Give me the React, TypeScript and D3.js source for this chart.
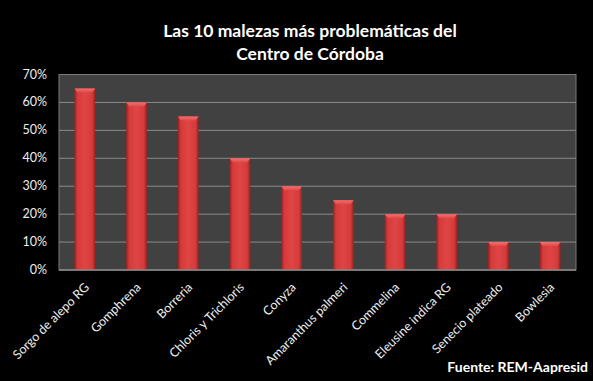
import React from "react";
import * as d3 from "d3";

const categories = [
  "Sorgo de alepo RG",
  "Gomphrena",
  "Borreria",
  "Chloris y Trichloris",
  "Conyza",
  "Amaranthus palmeri",
  "Commelina",
  "Eleusine indica RG",
  "Senecio plateado",
  "Bowlesia",
];
const values = [65, 60, 55, 40, 30, 25, 20, 20, 10, 10];
const yTicks = [0, 10, 20, 30, 40, 50, 60, 70];
const titleLines = ["Las 10 malezas más problemáticas del", "Centro de Córdoba"];
const source = "Fuente: REM-Aapresid";

const W = 593;
const H = 381;
const FONT = "Lato, 'Open Sans', sans-serif";

export default function App() {
  const left = 59, right = 576, top = 74.5, bottom = 270;
  const x = d3.scaleBand<string>().domain(categories).range([left, right]).paddingInner(0.6).paddingOuter(0.3);
  const y = d3.scaleLinear().domain([0, 70]).range([bottom, top]);
  const bw = x.bandwidth();

  return (
    <svg width={W} height={H} style={{ position: "absolute", left: 0, top: 0, background: "#000" }}>
      <defs>
        <linearGradient id="barH" x1="0" x2="1" y1="0" y2="0">
          <stop offset="0" stopColor="#9a2020" />
          <stop offset="0.15" stopColor="#d63b3b" />
          <stop offset="0.5" stopColor="#e04545" />
          <stop offset="0.85" stopColor="#d63b3b" />
          <stop offset="1" stopColor="#9a2020" />
        </linearGradient>
        <linearGradient id="bevel" x1="0" x2="0" y1="0" y2="1">
          <stop offset="0" stopColor="#f07070" />
          <stop offset="1" stopColor="#e04a4a" />
        </linearGradient>
      </defs>
      <rect x={0} y={0} width={W} height={H} fill="#000" />
      {titleLines.map((t, i) => (
        <text key={i} x={310} y={37 + i * 23} textAnchor="middle" fill="#fff" fontFamily={FONT} fontWeight="bold" fontSize={17.5}>
          {t}
        </text>
      ))}
      <rect x={left} y={top} width={right - left} height={bottom - top} fill="#414141" stroke="#7a7a7a" strokeWidth={1} />
      {yTicks.map((t) => (
        <g key={t}>
          {t > 0 && t < 70 && (
            <line x1={left} x2={right} y1={y(t)} y2={y(t)} stroke="#8a8a8a" strokeWidth={1} />
          )}
          <text x={47} y={y(t) + 4} textAnchor="end" fill="#eee" fontFamily={FONT} fontSize={12.5}>
            {t}%
          </text>
        </g>
      ))}
      {categories.map((c, i) => {
        const x0 = x(c)!;
        const y0 = y(values[i]);
        const bh = bottom - y0;
        const bv = 4;
        return (
          <g key={c}>
            <rect x={x0} y={y0} width={bw} height={bh} fill="url(#barH)" />
            <path
              d={`M${x0},${y0} L${x0 + bw},${y0} L${x0 + bw - 3},${y0 + bv} L${x0 + 3},${y0 + bv} Z`}
              fill="url(#bevel)"
            />
          </g>
        );
      })}
      <line x1={left} x2={right} y1={bottom} y2={bottom} stroke="#8a8a8a" strokeWidth={1.5} />
      {categories.map((c) => {
        const cx = x(c)! + bw / 2 + 5;
        const cy = 288;
        return (
          <text
            key={c}
            x={cx}
            y={cy}
            transform={`rotate(-45 ${cx} ${cy})`}
            textAnchor="end"
            fill="#eee"
            fontFamily={FONT}
            fontSize={12.5}
          >
            {c}
          </text>
        );
      })}
      <text x={588} y={372} textAnchor="end" fill="#fff" fontFamily={FONT} fontWeight="bold" fontSize={14}>
        {source}
      </text>
    </svg>
  );
}
